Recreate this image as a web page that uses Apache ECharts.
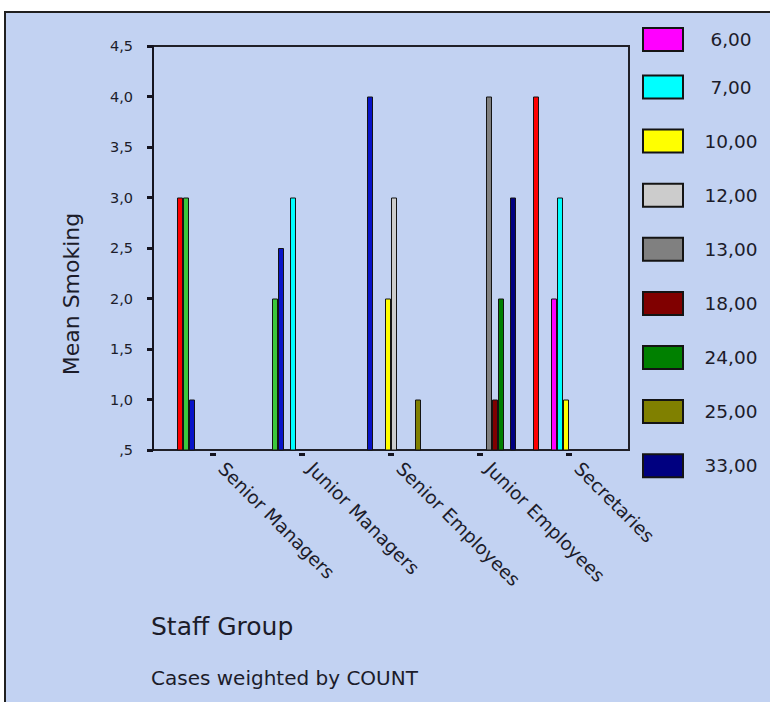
<!DOCTYPE html>
<html>
<head>
<meta charset="utf-8">
<style>
  html, body { margin: 0; padding: 0; background: #ffffff; }
  #chart { width: 770px; height: 702px; }
</style>
<script src="https://cdn.jsdelivr.net/npm/echarts@6/dist/echarts.min.js"></script>
</head>
<body>
<div id="chart"></div>
<script>
// Staff groups on the category axis
const categories = ['Senior Managers', 'Junior Managers', 'Senior Employees', 'Junior Employees', 'Secretaries'];

// Mean smoking per staff group, one array per cluster value (null = no cases)
const s1  = [3.0, null, null, null, 4.0];
const s2  = [3.0, 2.0, null, null, null];
const s3  = [1.0, 2.5, 4.0, null, null];
const s6  = [null, null, null, null, 2.0];
const s7  = [null, 3.0, null, null, 3.0];
const s10 = [null, null, 2.0, null, 1.0];
const s12 = [null, null, 3.0, null, null];
const s13 = [null, null, null, 4.0, null];
const s18 = [null, null, null, 1.0, null];
const s24 = [null, null, null, 2.0, null];
const s25 = [null, null, 1.0, null, null];
const s33 = [null, null, null, 3.0, null];

const seriesNames = ['1,00', '2,00', '3,00', '6,00', '7,00', '10,00', '12,00', '13,00', '18,00', '24,00', '25,00', '33,00'];
const seriesValues = [s1, s2, s3, s6, s7, s10, s12, s13, s18, s24, s25, s33];

// Entries listed in the legend box (first entry sits a little closer to the rest)
const legendHead = ['6,00'];
const legendRest = ['7,00', '10,00', '12,00', '13,00', '18,00', '24,00', '25,00', '33,00'];

// Value-axis tick labels (decimal comma)
const yTickLabels = [',5', '1,0', '1,5', '2,0', '2,5', '3,0', '3,5', '4,0', '4,5'];

const palette = ['#ff0000', '#3cc83c', '#0814c8', '#ff00ff', '#00ffff', '#ffff00', '#cccccc',
                 '#808080', '#800000', '#008000', '#808000', '#000080'];

const FONT = 'DejaVu Sans';
const INK = '#1c1c2a';
const PANEL = '#c2d2f2';

const chart = echarts.init(document.getElementById('chart'), null, { renderer: 'svg' });

const series = seriesNames.map((name, i) => ({
  name: name,
  type: 'bar',
  xAxisIndex: 1,
  yAxisIndex: 1,
  data: seriesValues[i],
  barWidth: 6,
  barGap: '0%',
  itemStyle: { color: palette[i], borderColor: '#141414', borderWidth: 1 },
  emphasis: { disabled: true },
  animation: false
}));

function legendBlock(names, top, gap) {
  return {
    orient: 'vertical',
    left: 642,
    top: top,
    padding: 0,
    itemWidth: 40,
    itemHeight: 23,
    itemGap: gap,
    icon: 'rect',
    selectedMode: false,
    data: names,
    formatter: name => '{c|' + name + '}',
    textStyle: {
      rich: {
        c: { width: 86, align: 'center', fontSize: 18.5, fontFamily: FONT, color: INK, lineHeight: 23 }
      }
    }
  };
}

chart.setOption({
  animation: false,
  backgroundColor: '#ffffff',
  graphic: [
    {
      type: 'rect', z: -100, silent: true,
      shape: { x: 5, y: 12, width: 820, height: 760 },
      style: { fill: PANEL, stroke: '#202020', lineWidth: 2 }
    },
    {
      type: 'text', silent: true, x: 71, y: 294, rotation: Math.PI / 2,
      style: { text: 'Mean Smoking', font: '22px "' + FONT + '"', fill: INK,
               align: 'center', verticalAlign: 'middle' }
    },
    {
      type: 'text', silent: true, left: 151, top: 614,
      style: { text: 'Staff Group', font: '25px "' + FONT + '"', fill: INK }
    },
    {
      type: 'text', silent: true, left: 151, top: 668,
      style: { text: 'Cases weighted by COUNT', font: '20px "' + FONT + '"', fill: INK }
    }
  ],
  legend: [
    legendBlock(legendHead, 27, 28.3),
    legendBlock(legendRest, 74.5, 29.1)
  ],
  grid: [
    { // frame with value axis
      left: 153, right: 141, top: 46, bottom: 252,
      show: true, borderColor: '#202028', borderWidth: 2, backgroundColor: 'transparent'
    },
    { // bar area
      left: 168.5, right: 156.5, top: 46, bottom: 252
    }
  ],
  xAxis: [
    { gridIndex: 0, type: 'category', data: categories, show: false },
    {
      gridIndex: 1, type: 'category', data: categories,
      offset: 3,
      axisLine: { show: false },
      axisTick: { show: true, alignWithLabel: true, length: 3, lineStyle: { color: '#141420', width: 6 } },
      axisLabel: { interval: 0, rotate: -45, margin: 4, padding: [0, 0, 0, 12],
                   fontSize: 18.5, fontFamily: FONT, color: INK }
    }
  ],
  yAxis: [
    {
      gridIndex: 0, type: 'value', min: 0.5, max: 4.5, interval: 0.5,
      axisLine: { show: true, lineStyle: { color: '#141420', width: 2 } },
      axisTick: { show: true, length: 6, lineStyle: { color: '#141420', width: 3 } },
      splitLine: { show: false },
      axisLabel: {
        margin: 20, fontSize: 14.5, fontFamily: FONT, color: INK,
        formatter: v => yTickLabels[Math.round((v - 0.5) / 0.5)]
      }
    },
    { gridIndex: 1, type: 'value', min: 0.5, max: 4.5, interval: 0.5, show: false, splitLine: { show: false } }
  ],
  series: series
});
</script>
</body>
</html>
